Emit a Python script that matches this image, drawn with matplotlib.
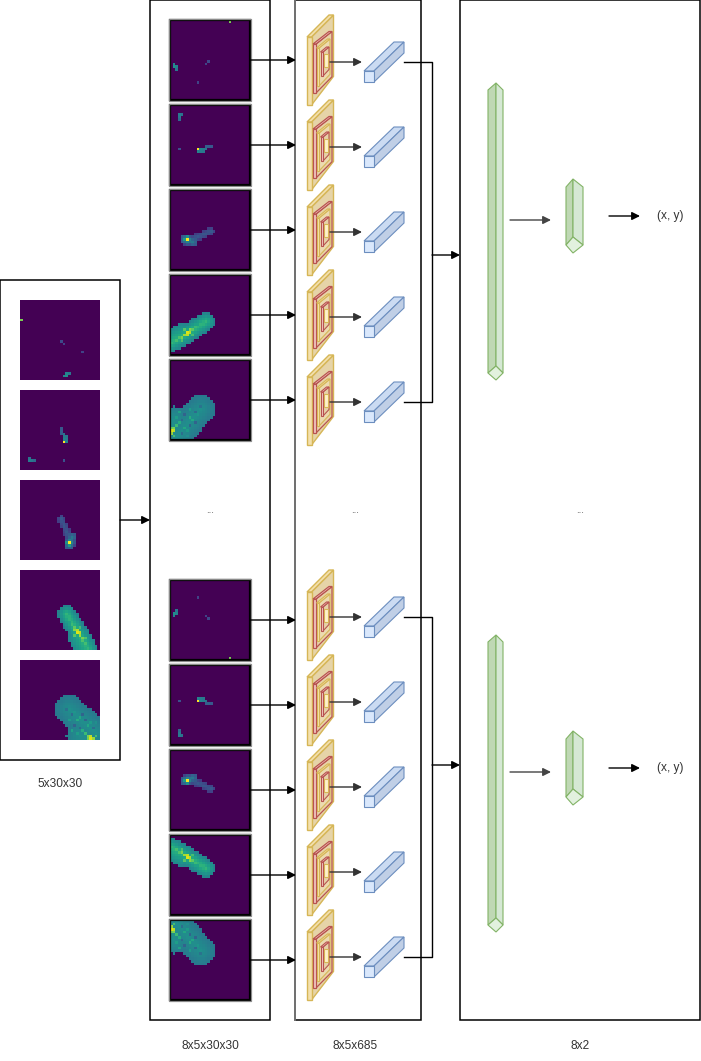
import numpy as np
import matplotlib
matplotlib.use("Agg")
from matplotlib import pyplot as plt
from matplotlib.patches import Polygon, Rectangle

plt.rcParams['font.family'] = ['Liberation Sans', 'DejaVu Sans']

# ---- heatmap frames (30x30), described as bright pixels and streaks ----
# streak: (r0, c0, r1, c1, half width, value at centre, value at edge)
FRAME_PIXELS = [
    [(0, 22, 0.8), (16, 1, 0.45), (17, 1, 0.5), (17, 2, 0.45), (18, 2, 0.4),
     (15, 14, 0.22), (16, 13, 0.2), (23, 10, 0.2)],
    [(3, 3, 0.42), (3, 4, 0.38), (4, 3, 0.4), (5, 3, 0.35), (16, 3, 0.25),
     (16, 10, 1.0), (17, 10, 0.45), (17, 11, 0.42), (17, 12, 0.4), (16, 11, 0.45),
     (16, 12, 0.42), (16, 13, 0.38), (15, 13, 0.3), (15, 14, 0.3), (15, 15, 0.28)],
    [(18, 6, 1.0), (18, 5, 0.55), (17, 6, 0.5), (19, 6, 0.45), (18, 7, 0.45),
     (19, 5, 0.35), (17, 5, 0.35), (20, 7, 0.25)],
    [(21, 6, 0.95), (21, 7, 0.88), (22, 5, 0.86), (20, 7, 0.82), (22, 6, 0.9),
     (23, 4, 0.8), (20, 8, 0.75), (23, 3, 0.72), (19, 9, 0.68), (24, 2, 0.7),
     (22, 8, 0.7), (24, 4, 0.72), (25, 1, 0.62), (18, 10, 0.58), (20, 5, 0.74)],
    [(26, 0, 0.95), (27, 0, 0.85), (25, 1, 0.8), (26, 1, 0.9), (24, 2, 0.68),
     (25, 0, 0.78), (28, 1, 0.7), (23, 3, 0.62), (20, 5, 0.32), (22, 8, 0.6),
     (19, 9, 0.35), (24, 7, 0.33), (21, 2, 0.56), (25, 5, 0.6), (27, 4, 0.36),
     (18, 7, 0.55), (20, 10, 0.52), (22, 4, 0.35), (17, 11, 0.38), (26, 6, 0.55),
     (23, 9, 0.32), (19, 3, 0.58), (28, 6, 0.5), (21, 7, 0.62)],
]
FRAME_STREAKS = [
    [],
    [],
    [(19, 5, 15, 15, 1.3, 0.28, 0.18), (18, 5, 19, 8, 1.8, 0.4, 0.25)],
    [(25, 0, 17, 13, 3.6, 0.66, 0.42), (24, 0, 22, 4, 4.4, 0.62, 0.45)],
    [(28, 2, 18, 11, 5.4, 0.5, 0.4), (26, 0, 22, 1, 5.0, 0.5, 0.42)],
]

# ---- labels ----
SHAPE_LABELS = ["5x30x30", "8x5x30x30", "8x5x685", "8x2"]
OUTPUT_LABEL = "(x, y)"
ELLIPSIS = "..."


def build_frame(pixels, streaks, n=30):
    img = np.zeros((n, n))
    rr, cc = np.mgrid[0:n, 0:n]
    for r0, c0, r1, c1, hw, vin, vedge in streaks:
        d0 = np.array([r1 - r0, c1 - c0], float)
        t = ((rr - r0) * d0[0] + (cc - c0) * d0[1]) / (d0 @ d0)
        t = np.clip(t, 0, 1)
        dist = np.hypot(rr - (r0 + t * d0[0]), cc - (c0 + t * d0[1]))
        val = np.where(dist <= hw, vin + (vedge - vin) * dist / hw, 0)
        img = np.maximum(img, val)
    for r, c, v in pixels:
        if img[r, c] > 0 and v < img[r, c]:
            img[r, c] = v
        else:
            img[r, c] = max(img[r, c], v)
    return img


frames = [build_frame(p, s) for p, s in zip(FRAME_PIXELS, FRAME_STREAKS)]

fig = plt.figure(figsize=(7.01, 10.61), dpi=100)
ax = fig.add_axes([0, 0, 1, 1])

TXT = dict(color='#333333', fontsize=8.6, ha='center', va='center')


def box(x, y, w, h, lw=1.1, color='black'):
    ax.add_patch(Rectangle((x, y), w, h, fill=False, edgecolor=color, lw=lw, zorder=1))


def arrow(x0, y0, x1, y1, color='black'):
    ax.annotate('', xy=(x1, y1), xytext=(x0, y0),
                arrowprops=dict(arrowstyle='-|>', color=color, lw=1, shrinkA=0, shrinkB=0,
                                mutation_scale=12), zorder=5)


def poly(pts, fc, ec, lw=0.8, z=3):
    ax.add_patch(Polygon(pts, closed=True, facecolor=fc, edgecolor=ec, lw=lw, zorder=z))


def slab(x, y, h, t, dx, dy, front, side, edge, z, lw=0.8):
    poly([(x + t, y), (x + t + dx, y - dy), (x + t + dx, y + h - dy * 1.3), (x + t, y + h)], side, edge, lw, z)
    poly([(x, y), (x + dx, y - dy), (x + t + dx, y - dy), (x + t, y)], front, edge, lw, z)
    poly([(x, y), (x + t, y), (x + t, y + h), (x, y + h)], front, edge, lw, z)


def conv_icon(top):
    slab(307, top + 22, 68, 4.5, 22, 22, '#f3e0ad', '#e6d4a8', '#d6b656', 3, 1.0)
    slab(313, top + 29, 49, 3, 16, 12.5, '#f3c9c3', '#e8d2a8', '#b85450', 4, 0.9)
    slab(316.5, top + 33, 38, 2.5, 11, 9, '#f6e4b4', '#ecdab0', '#d6b656', 5)
    slab(320.5, top + 37, 24, 2.5, 6, 5, '#f3c9c3', '#e6d2a8', '#b85450', 6)
    poly([(323.5, top + 39), (328, top + 39), (328, top + 52), (323.5, top + 52)],
         '#fff2cc', '#d6b656', z=7)
    arrow(329, top + 47, 362, top + 47, color='#333333')
    # blue feature vector
    y0 = top + 56
    poly([(364, y0), (394, y0 - 29), (404, y0 - 29), (374, y0)], '#cbdbf2', '#6c8ebf')
    poly([(374, y0), (404, y0 - 29), (404, y0 - 18), (374, y0 + 11)], '#c0cfe6', '#6c8ebf')
    poly([(364, y0), (374, y0), (374, y0 + 11), (364, y0 + 11)], '#dae8fc', '#6c8ebf')


def prism(x0, x1, xm, ytop, yshoulder, ybot, z=3):
    dy = yshoulder - ytop
    ydia = ybot - 2 * dy
    ec = '#82b366'
    poly([(xm, ytop), (x0, yshoulder), (x0, ybot - dy), (xm, ydia)], '#bfd8b4', ec, z=z)
    poly([(xm, ytop), (x1, yshoulder), (x1, ybot - dy), (xm, ydia)], '#d5e8d4', ec, z=z)
    poly([(x0, ybot - dy), (xm, ydia), (x1, ybot - dy), (xm, ybot)], '#e2f1de', ec, z=z)


# ---- containers ----
box(0, 280, 120, 480)
box(150, 0, 120, 1020)
box(294.5, 0, 126, 1020)
ax.plot([294.5, 294.5], [0, 1020], color='#777777', lw=1.3, zorder=2)
box(460, 0, 240, 1020)

ax.text(60, 784, SHAPE_LABELS[0], **TXT)
ax.text(210, 1046, SHAPE_LABELS[1], **TXT)
ax.text(355, 1046, SHAPE_LABELS[2], **TXT)
ax.text(580, 1046, SHAPE_LABELS[3], **TXT)
for xe in (210, 355, 580):
    ax.text(xe, 510, ELLIPSIS, color='#555555', fontsize=7, ha='center', va='center')

# ---- left input stack ----
for i, f in enumerate(frames):
    y = 300 + 90 * i
    ax.imshow(np.rot90(f), cmap='viridis', vmin=0, vmax=1, interpolation='nearest',
              extent=(20, 100, y + 80, y), zorder=2)
arrow(120, 520, 150, 520)

# ---- middle stacks (top and flipped bottom) ----
for g, (base, flip) in enumerate([(20, False), (580, True)]):
    for i, f in enumerate(frames):
        y = base + 85 * i
        img = np.flipud(f) if flip else f
        ax.imshow(img, cmap='viridis', vmin=0, vmax=1, interpolation='nearest',
                  extent=(170, 250, y + 80, y), zorder=2)
        ax.add_patch(Rectangle((170, y), 80, 80, fill=False, edgecolor='black', lw=1.6, zorder=3))
        ax.add_patch(Rectangle((168.8, y - 1.2), 82.4, 82.4, fill=False, edgecolor='#8a8a8a',
                               lw=0.9, zorder=3))
        arrow(250, y + 40, 296, y + 40)

# ---- conv blocks and merge brackets ----
for tops, ya in [([15, 100, 185, 270, 355], 255), ([570, 655, 740, 825, 910], 765)]:
    for top in tops:
        conv_icon(top)
    yf, yl = tops[0] + 47, tops[-1] + 47
    ax.plot([404, 432, 432, 404], [yf, yf, yl, yl], color='black', lw=1, zorder=4)
    arrow(432, ya, 460, ya)

# ---- dense layers ----
for off in (0, 552):
    prism(488, 503, 496, 83 + off, 90 + off, 380 + off)
    prism(566, 583, 573, 179 + off, 187 + off, 253 + off)
    arrow(510, 220 + off, 551, 220 + off, color='#444444')
    arrow(609, 216 + off, 640, 216 + off)
    ax.text(670, 216 + off, OUTPUT_LABEL, **TXT)

ax.set_aspect('auto')
ax.set_xlim(0, 701)
ax.set_ylim(1061, 0)
ax.axis('off')
fig.savefig('out.png', dpi=100, facecolor='white')
